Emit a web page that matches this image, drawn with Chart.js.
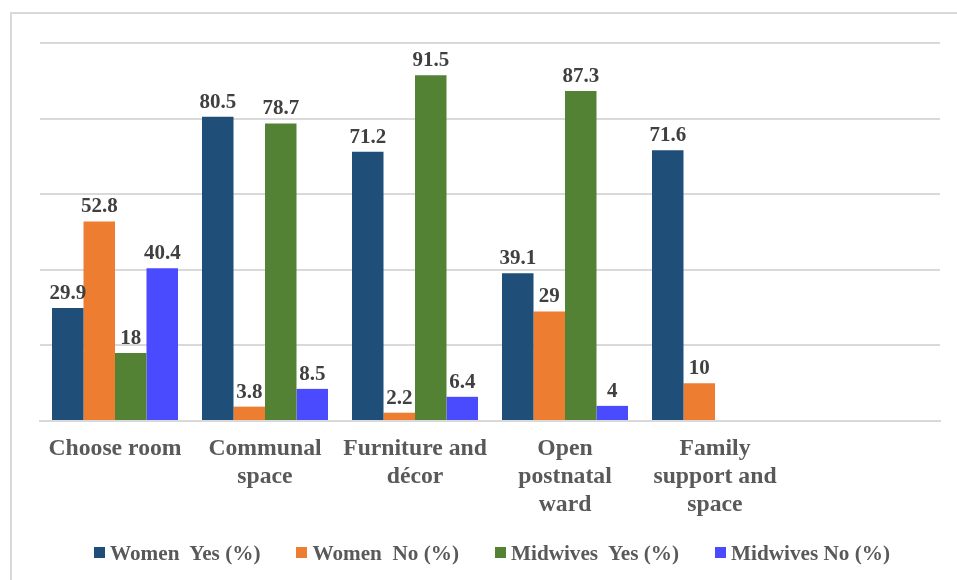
<!DOCTYPE html>
<html>
<head>
<meta charset="utf-8">
<script src="https://cdn.jsdelivr.net/npm/chart.js@4.4.0/dist/chart.umd.min.js"></script>
<style>
  html, body { margin: 0; padding: 0; background: #fff; }
  #wrap { position: relative; width: 957px; height: 580px; overflow: hidden; }
  #frame { position: absolute; left: 10px; top: 12px; width: 960px; height: 600px;
           border: 2px solid #d9d9d9; box-sizing: border-box; }
  canvas { position: absolute; left: 0; top: 0; }
  #legend { position: absolute; left: 94px; top: 541px; display: flex; gap: 36px;
            font: bold 21.2px "Liberation Serif", "Times New Roman", serif; color: #595959;
            white-space: pre; line-height: 24px; }
  #legend span.item { display: flex; align-items: center; }
  #legend i { display: inline-block; width: 11px; height: 11px; margin-right: 5px; margin-top: -2px; }
</style>
</head>
<body>
<div id="wrap">
  <div id="frame"></div>
  <canvas id="chart" width="957" height="580"></canvas>
  <div id="legend"></div>
</div>
<script>
const categories = [
  ["Choose room"],
  ["Communal", "space"],
  ["Furniture and", "décor"],
  ["Open", "postnatal", "ward"],
  ["Family", "support and", "space"],
  [""]
];
const womenYes    = [29.9, 80.5, 71.2, 39.1, 71.6, null];
const womenNo     = [52.8, 3.8, 2.2, 29, 10, null];
const midwivesYes = [18, 78.7, 91.5, 87.3, null, null];
const midwivesNo  = [40.4, 8.5, 6.4, 4, null, null];

const seriesNames  = ["Women  Yes (%)", "Women  No (%)", "Midwives  Yes (%)", "Midwives No (%)"];
const seriesColors = ["#1F4E79", "#ED7D31", "#548235", "#4A4AFF"];

const serif = '"Liberation Serif", "Times New Roman", serif';

// value above each bar
const barLabels = {
  id: "barLabels",
  afterDatasetsDraw(chart) {
    const ctx = chart.ctx;
    ctx.save();
    ctx.font = "bold 21px " + serif;
    ctx.fillStyle = "#404040";
    ctx.textAlign = "center";
    ctx.textBaseline = "bottom";
    chart.data.datasets.forEach((ds, i) => {
      chart.getDatasetMeta(i).data.forEach((bar, j) => {
        const v = ds.data[j];
        if (v == null) return;
        ctx.fillText(String(v), bar.x, bar.y - 4);
      });
    });
    ctx.restore();
  }
};

function draw() {
  const chart = new Chart(document.getElementById("chart"), {
    type: "bar",
    data: {
      labels: categories,
      datasets: [womenYes, womenNo, midwivesYes, midwivesNo].map((d, i) => ({
        label: seriesNames[i],
        data: d,
        backgroundColor: seriesColors[i]
      }))
    },
    options: {
      responsive: false,
      animation: false,
      layout: { padding: { left: 40, right: 17, top: 43, bottom: 55 } },
      datasets: { bar: { categoryPercentage: 0.84, barPercentage: 1 } },
      scales: {
        x: {
          grid: { display: false },
          border: { color: "#d9d9d9", width: 2 },
          ticks: {
            color: "#595959",
            font: { family: serif, size: 23.7, weight: "bold", lineHeight: "28px" },
            padding: 6,
            maxRotation: 0,
            autoSkip: false
          }
        },
        y: {
          min: 0, max: 100,
          ticks: { display: false, stepSize: 20 },
          grid: { color: "#d9d9d9", lineWidth: 2, drawTicks: false },
          border: { display: false }
        }
      },
      plugins: {
        legend: { display: false },
        tooltip: { enabled: false }
      }
    },
    plugins: [barLabels]
  });

  const legend = document.getElementById("legend");
  chart.data.datasets.forEach(ds => {
    const item = document.createElement("span");
    item.className = "item";
    const box = document.createElement("i");
    box.style.background = ds.backgroundColor;
    item.appendChild(box);
    item.appendChild(document.createTextNode(ds.label));
    legend.appendChild(item);
  });
}

document.fonts.load('bold 21px "Liberation Serif"').then(draw, draw);
</script>
</body>
</html>
